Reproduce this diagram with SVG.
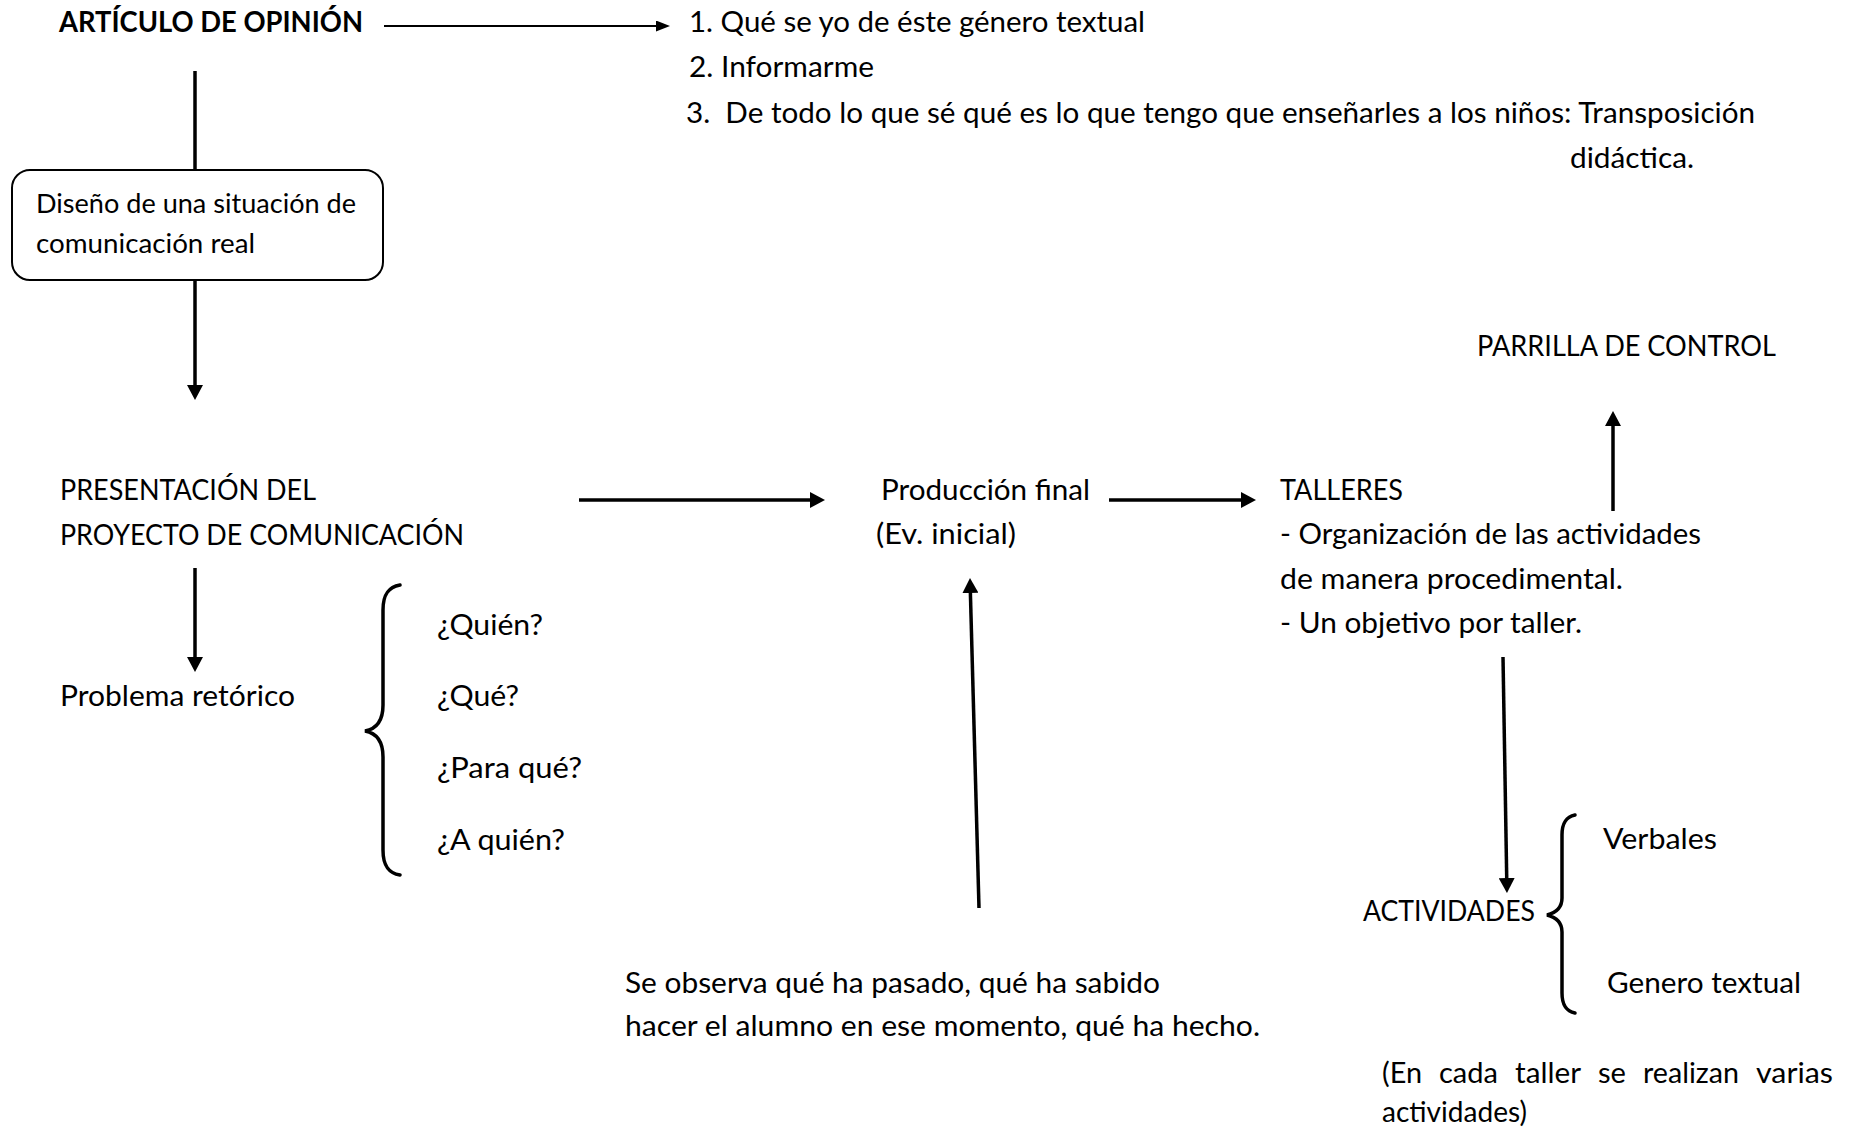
<svg xmlns="http://www.w3.org/2000/svg" width="1854" height="1134" viewBox="0 0 1854 1134">
<style>
  text { font-family: "Lato", "Open Sans", sans-serif; font-size: 28px; fill: #000; }
  .bold { font-weight: bold; }
  .small { font-size: 26.5px; }
  .conn { stroke: #000; stroke-width: 3.5; fill: none; }
  .thin { stroke: #000; stroke-width: 2; fill: none; }
  .brace { stroke: #000; stroke-width: 3.5; fill: none; stroke-linecap: round; }
  .box { fill: #fff; stroke: #000; stroke-width: 2; }
</style>
<defs>
  <marker id="ah" markerUnits="userSpaceOnUse" markerWidth="16" markerHeight="16" refX="5" refY="8" orient="auto">
    <path d="M0,0 L15,8 L0,16 z" fill="#000"/>
  </marker>
  <marker id="ahs" markerUnits="userSpaceOnUse" markerWidth="15" markerHeight="12" refX="4" refY="5.5" orient="auto">
    <path d="M0,0 L14,5.5 L0,11 z" fill="#000"/>
  </marker>
</defs>
<rect width="1854" height="1134" fill="#fff"/>

<g id="connectors">
  <line class="thin" x1="384" y1="26" x2="660" y2="26" marker-end="url(#ahs)"/>
  <line class="conn" x1="195" y1="71" x2="195" y2="170"/>
  <line class="conn" x1="195" y1="280" x2="195" y2="390" marker-end="url(#ah)"/>
  <line class="conn" x1="579" y1="500" x2="815" y2="500" marker-end="url(#ah)"/>
  <line class="conn" x1="195" y1="568" x2="195" y2="662" marker-end="url(#ah)"/>
  <line class="conn" x1="1109" y1="500" x2="1246" y2="500" marker-end="url(#ah)"/>
  <line class="conn" x1="979" y1="908" x2="970.25" y2="588" marker-end="url(#ah)"/>
  <line class="conn" x1="1613" y1="511" x2="1613" y2="421" marker-end="url(#ah)"/>
  <line class="conn" x1="1503" y1="657" x2="1506.8" y2="883" marker-end="url(#ah)"/>
</g>

<g id="articulo">
  <text class="bold" x="59" y="32" textLength="304" lengthAdjust="spacingAndGlyphs">ARTÍCULO DE OPINIÓN</text>
</g>

<g id="pasos">
  <text x="689" y="32" textLength="456" lengthAdjust="spacingAndGlyphs">1. Qué se yo de éste género textual</text>
  <text x="689" y="77" textLength="185" lengthAdjust="spacingAndGlyphs">2. Informarme</text>
  <text x="686" y="123" textLength="1069" lengthAdjust="spacingAndGlyphs">3.&#160; De todo lo que sé qué es lo que tengo que enseñarles a los niños: Transposición</text>
  <text x="1570" y="168" textLength="124" lengthAdjust="spacingAndGlyphs">didáctica.</text>
</g>

<g id="diseno">
  <rect class="box" x="12" y="170" width="371" height="110" rx="18" ry="18"/>
  <text class="small" x="36" y="213" textLength="320" lengthAdjust="spacingAndGlyphs">Diseño de una situación de</text>
  <text class="small" x="36" y="253" textLength="219" lengthAdjust="spacingAndGlyphs">comunicación real</text>
</g>

<g id="presentacion">
  <text x="60" y="500" textLength="256" lengthAdjust="spacingAndGlyphs">PRESENTACIÓN DEL</text>
  <text x="60" y="545" textLength="404" lengthAdjust="spacingAndGlyphs">PROYECTO DE COMUNICACIÓN</text>
</g>

<g id="problema">
  <text x="60" y="706" textLength="235" lengthAdjust="spacingAndGlyphs">Problema retórico</text>
</g>

<g id="preguntas">
  <path class="brace" d="M400,585 C388,587 383,595 383,610 L383,705 C383,722 376,729 365,731 C376,733 383,740 383,757 L383,850 C383,865 388,873 400,875"/>
  <text x="437" y="635" textLength="106" lengthAdjust="spacingAndGlyphs">¿Quién?</text>
  <text x="437" y="706" textLength="82" lengthAdjust="spacingAndGlyphs">¿Qué?</text>
  <text x="437" y="778" textLength="145" lengthAdjust="spacingAndGlyphs">¿Para qué?</text>
  <text x="437" y="850" textLength="128" lengthAdjust="spacingAndGlyphs">¿A quién?</text>
</g>

<g id="produccion">
  <text x="881" y="500" textLength="209" lengthAdjust="spacingAndGlyphs">Producción final</text>
  <text x="876" y="544" textLength="140" lengthAdjust="spacingAndGlyphs">(Ev. inicial)</text>
</g>

<g id="observa">
  <text x="625" y="993" textLength="535" lengthAdjust="spacingAndGlyphs">Se observa qué ha pasado, qué ha sabido</text>
  <text x="625" y="1036" textLength="635" lengthAdjust="spacingAndGlyphs">hacer el alumno en ese momento, qué ha hecho.</text>
</g>

<g id="talleres">
  <text x="1280" y="500" textLength="123" lengthAdjust="spacingAndGlyphs">TALLERES</text>
  <text x="1280" y="544" textLength="421" lengthAdjust="spacingAndGlyphs">- Organización de las actividades</text>
  <text x="1280" y="589" textLength="343" lengthAdjust="spacingAndGlyphs">de manera procedimental.</text>
  <text x="1280" y="633" textLength="302" lengthAdjust="spacingAndGlyphs">- Un objetivo por taller.</text>
</g>

<g id="parrilla">
  <text x="1477" y="356" textLength="299" lengthAdjust="spacingAndGlyphs">PARRILLA DE CONTROL</text>
</g>

<g id="actividades">
  <text x="1363" y="921" textLength="172" lengthAdjust="spacingAndGlyphs">ACTIVIDADES</text>
  <path class="brace" d="M1575,815 C1566,817 1562,823 1562,835 L1562,898 C1562,909 1555,913 1547,915 C1555,917 1562,921 1562,932 L1562,993 C1562,1005 1566,1011 1575,1013"/>
  <text x="1603" y="849" textLength="114" lengthAdjust="spacingAndGlyphs">Verbales</text>
  <text x="1607" y="993" textLength="194" lengthAdjust="spacingAndGlyphs">Genero textual</text>
</g>

<g id="nota">
  <text x="1382" y="1083" textLength="40" lengthAdjust="spacingAndGlyphs">(En</text>
  <text x="1439" y="1083" textLength="59" lengthAdjust="spacingAndGlyphs">cada</text>
  <text x="1515" y="1083" textLength="66" lengthAdjust="spacingAndGlyphs">taller</text>
  <text x="1598" y="1083" textLength="28" lengthAdjust="spacingAndGlyphs">se</text>
  <text x="1643" y="1083" textLength="96" lengthAdjust="spacingAndGlyphs">realizan</text>
  <text x="1756" y="1083" textLength="77" lengthAdjust="spacingAndGlyphs">varias</text>
  <text x="1382" y="1122" textLength="145" lengthAdjust="spacingAndGlyphs">actividades)</text>
</g>
</svg>
